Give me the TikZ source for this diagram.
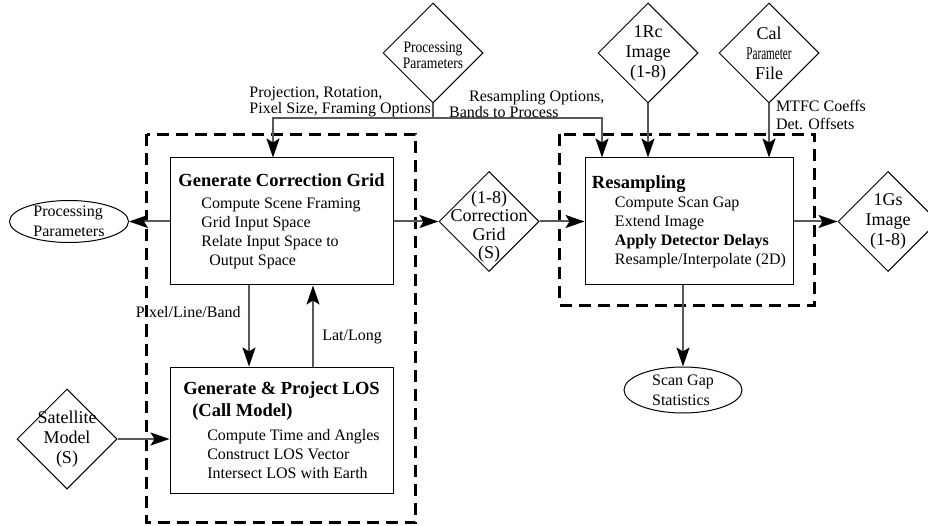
\documentclass[tikz,border=0pt]{standalone}
\usepackage{fontspec}
\setmainfont{Liberation Serif}
\usepackage{graphicx}
\usepackage{tikz}
\usetikzlibrary{shapes.geometric,arrows.meta,positioning}

\newcommand{\squeeze}[2]{\scalebox{#1}[1]{#2}}
\newcommand{\boxtitle}{\fontsize{18.5}{22}\selectfont\bfseries}

\tikzset{
  every node/.style={font=\fontsize{16}{19}\selectfont},
  procbox/.style={draw, line width=1pt, align=left, inner sep=0pt},
  decision/.style={draw, diamond, line width=1pt, inner sep=0pt,
                   minimum width=100pt, minimum height=100pt},
  dtext/.style={align=center, inner sep=0pt, font=\fontsize{18}{20}\selectfont},
  store/.style={draw, ellipse, line width=1pt, inner sep=0pt},
  etext/.style={align=left, inner sep=0pt, font=\fontsize{16}{20}\selectfont},
  lbl/.style={align=left, inner sep=0pt, font=\fontsize{16}{16}\selectfont},
  feed/.style={draw=black!65, line width=2pt},
  flow/.style={feed, -{Stealth[length=19pt,width=13pt,inset=4pt,black]}},
  dashbox/.style={draw, line width=2.2pt, dash pattern=on 12pt off 7pt}
}

\begin{document}
\begin{tikzpicture}[x=1pt,y=1pt]

        \useasboundingbox (0,0) rectangle (928,525);

        \node[decision, label={[dtext, yshift=-2pt, font=\fontsize{16}{16}\selectfont]center:\squeeze{0.85}{Processing}\\\squeeze{0.85}{Parameters}}]
              (pp)  at (433,472) {};                                          %inputs
        \node[decision, label={[dtext]center:1Rc\\Image\\(1-8)}]     (rc)  at (648,472) {};  %
        \node[decision, label={[dtext]center:Cal\\\squeeze{0.62}{Parameter}\\File}] (cal) at (769,472) {}; %

        \node[procbox, minimum width=223pt, minimum height=127pt] (grid) at (281.5,303.5)
              {{\boxtitle Generate Correction Grid}\\[3pt]
               \hspace*{23pt}Compute Scene Framing\\
               \hspace*{23pt}Grid Input Space\\
               \hspace*{23pt}Relate Input Space to\\
               \hspace*{31pt}Output Space};                                  %grid
        \node[procbox, minimum width=223pt, minimum height=126pt] (los) at (281.5,95)
              {{\boxtitle Generate \& Project LOS}\\[3pt]
               \hspace*{9pt}{\boxtitle (Call Model)}\\[5pt]
               \hspace*{24pt}Compute Time and Angles\\
               \hspace*{24pt}Construct LOS Vector\\
               \hspace*{24pt}Intersect LOS with Earth};                      %model
        \node[procbox, minimum width=208pt, minimum height=127pt] (resamp) at (689,303.5)
              {{\boxtitle Resampling}\\
               \hspace*{23pt}Compute Scan Gap\\
               \hspace*{23pt}Extend Image\\
               \hspace*{23pt}\textbf{Apply Detector Delays}\\
               \hspace*{23pt}Resample/Interpolate (2D)};                     %resampling

        \node[store, minimum width=119pt, minimum height=42pt,
              label={[etext]center:Processing\\Parameters}] (ppout) at (69,303.5) {};   %
        \node[decision, label={[dtext, yshift=-5pt, font=\fontsize{18}{18.5}\selectfont]center:(1-8)\\Correction\\Grid\\(S)}]
              (cg)  at (489,303.5) {};                                        %
        \node[decision, label={[dtext]center:1Gs\\Image\\(1-8)}]     (gs)  at (888,303.5) {}; %
        \node[decision, label={[dtext]center:Satellite\\Model\\(S)}] (sat) at (67,86) {};    %
        \node[store, minimum width=118pt, minimum height=46pt,
              label={[etext]center:Scan Gap\\Statistics}] (scan) at (683,135) {};           %

        \draw[dashbox] ([shift={(-23,23)}]grid.north west) rectangle ([shift={(22,-29)}]los.south east);
        \draw[dashbox] ([shift={(-25,23)}]resamp.north west) rectangle ([shift={(21,-20)}]resamp.south east);

        \draw[feed] (pp.south) -- ++(0,-15) coordinate (split);             %options
        \draw[flow] (split) -| ([xshift=-8.5pt]grid.north);                 %
        \draw[flow] (split) -| ([xshift=-87pt]resamp.north);                %
        \node[lbl, anchor=south east] (optl) at ([shift={(-2,1)}]split)
              {Projection, Rotation,\\Pixel Size, Framing Options};
        \node[lbl, anchor=south west] (optr) at ([shift={(16,1)}]split)
              {\hspace*{20pt}Resampling Options,\\Bands to Process};

        \draw[flow] (rc.south)  -- (rc.south |- resamp.north);              %
        \draw[flow] (cal.south) -- (cal.south |- resamp.north)
              node[pos=0.22, right=6pt, lbl, font=\fontsize{16}{18}\selectfont] {MTFC Coeffs\\Det. Offsets};

        \draw[flow] (grid.west)   -- (ppout.east);                          %
        \draw[flow] (grid.east)   -- (cg.west);                             %
        \draw[flow] (cg.east)     -- (resamp.west);                         %
        \draw[flow] (resamp.east) -- (gs.west);                             %
        \draw[flow] (resamp.south -| scan.north) -- (scan.north);           %
        \draw[flow] (sat.east)    -- (sat.east -| los.west);                %

        \draw[flow] ([xshift=-32.5pt]grid.south) -- ([xshift=-32.5pt]los.north)
              node[pos=0.33, left=4pt] {Pixel/Line/Band};
        \draw[flow] ([xshift=31.5pt]los.north) -- ([xshift=31.5pt]grid.south)
              node[pos=0.37, right=5pt] {Lat/Long};
      \end{tikzpicture}
\end{document}
